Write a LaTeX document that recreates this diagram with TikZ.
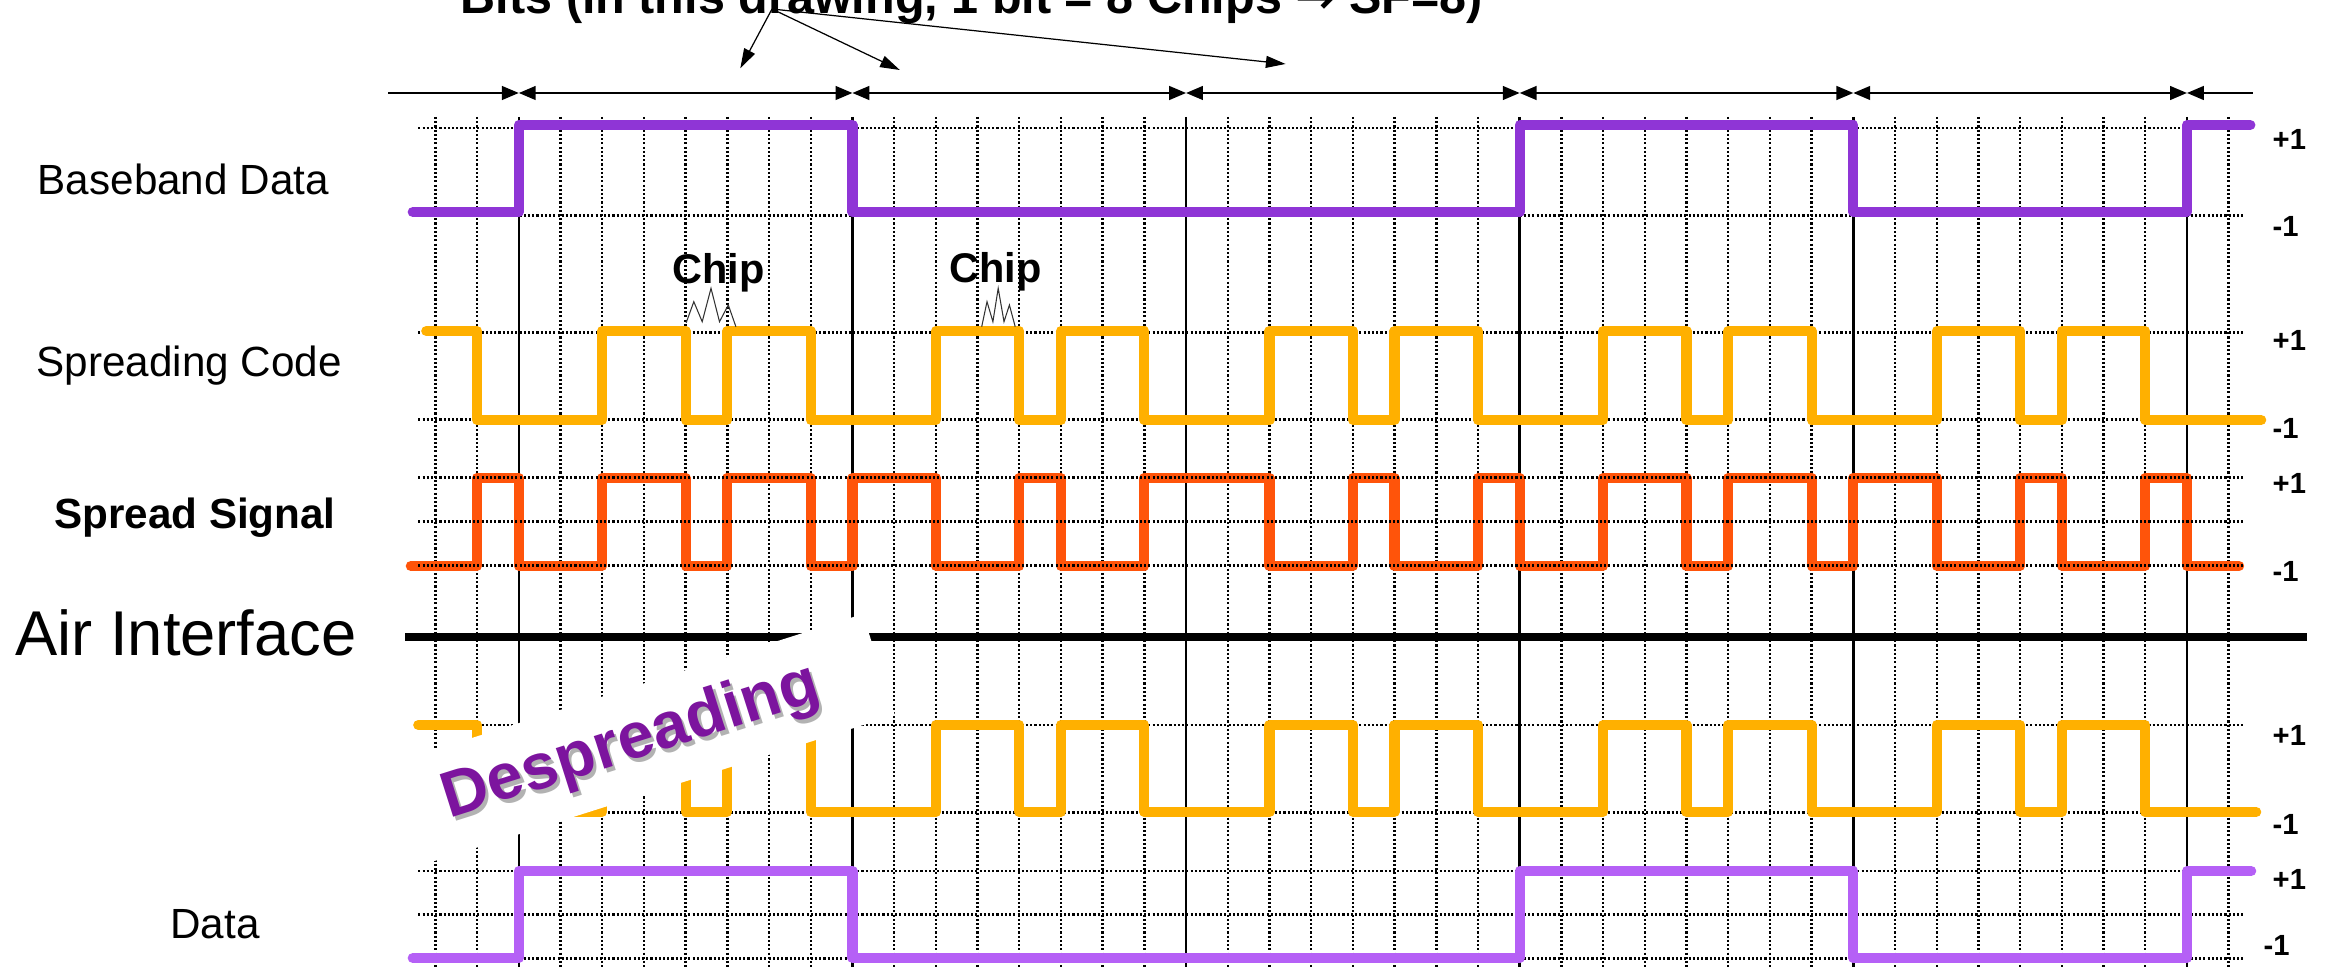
\documentclass[tikz,border=0pt]{standalone}
\usepackage{fontspec}
\setmainfont{Liberation Sans}
\newfontfamily\arrowfont{DejaVu Sans}
\usetikzlibrary{arrows.meta}
\definecolor{bbpurple}{RGB}{143,53,214}
\definecolor{datapurple}{RGB}{181,96,246}
\definecolor{codeorange}{RGB}{255,176,0}
\definecolor{spreadred}{RGB}{255,84,10}
\definecolor{despurple}{RGB}{124,20,158}
\begin{document}
\begin{tikzpicture}[x=0.01cm,y=-0.01cm,
  gridline/.style={line width=0.7pt, dash pattern=on 0.6pt off 0.6pt},
  bitline/.style={line width=0.7pt},
  wave/.style={line width=2.9pt, line cap=round, line join=round},
  tl/.style={line width=0.6pt},
  tltip/.tip={Triangle[length=4.8pt, width=3.9pt]},
  ptr/.style={line width=0.35pt, -{Triangle[length=5.6pt, width=3.4pt]}},
  zig/.style={line width=0.3pt, black!80},
  lbl/.style={font=\fontsize{12}{14}\selectfont, inner sep=0pt, anchor=base},
  lvl/.style={font=\fontsize{8.3}{10}\selectfont\bfseries, inner sep=0pt, anchor=west},
  chiplbl/.style={font=\fontsize{11.8}{14}\selectfont\bfseries, inner sep=0pt, anchor=base},
  desptext/.style={font=\fontsize{18.4}{20}\selectfont\bfseries, inner sep=0pt, rotate=17.6}]
\useasboundingbox (0,0) rectangle (2327,967);

% ---------- grid ----------
\begin{scope}[x=0.4168cm, xshift=5.185cm]
  \foreach \k in {-2,...,41}{
    \pgfmathtruncatemacro\m{mod(\k+16,8)}
    \ifnum\m=0
      \draw[bitline] (\k,117) -- (\k,967);
    \else
      \draw[gridline] (\k,117) -- (\k,967);
    \fi
  }
  \foreach \yy in {128,215.7,332.5,419.5,725,812.7,871,914.5,958.3}
    \draw[gridline] (-2.41,\yy) -- (41.39,\yy);

  % bit boundary coordinates on the time line
  \coordinate (t0) at (-3.13,93);
  \foreach \i in {0,...,5} \coordinate (b\i) at ({8*\i},93);
  \coordinate (t1) at (41.59,93);

  % ---------- waveforms ----------
  \draw[wave, bbpurple] (-2.543,212) -| (0,125) -| (8,212) -| (24,125) -| (32,212) -| (40,125) -- (41.52,125);

  \draw[wave, codeorange] (-2.219,331) -| (-1,420) -| (2,331) -| (4,420) -| (5,331) -| (7,420)
     -| (10,331) -| (12,420) -| (13,331) -| (15,420) -| (18,331) -| (20,420) -| (21,331) -| (23,420)
     -| (26,331) -| (28,420) -| (29,331) -| (31,420) -| (34,331) -| (36,420) -| (37,331) -| (39,420)
     -- (41.78,420);

  \draw[wave, spreadred] (-2.589,566) -| (-1,478) -| (0,566) -| (2,478) -| (4,566) -| (5,478) -| (7,566)
     -| (8,478) -| (10,566) -| (12,478) -| (13,566) -| (15,478) -| (18,566) -| (20,478) -| (21,566)
     -| (23,478) -| (24,566) -| (26,478) -| (28,566) -| (29,478) -| (31,566) -| (32,478) -| (34,566)
     -| (36,478) -| (37,566) -| (39,478) -| (40,566) -- (41.25,566);
  \foreach \yy in {477.7,521.7,565.5}
    \draw[gridline] (-2.41,\yy) -- (41.39,\yy);

  \draw[wave, codeorange] (-2.411,725) -| (-1,812) -| (2,725) -| (4,812) -| (5,725) -| (7,812)
     -| (10,725) -| (12,812) -| (13,725) -| (15,812) -| (18,725) -| (20,812) -| (21,725) -| (23,812)
     -| (26,725) -| (28,812) -| (29,725) -| (31,812) -| (34,725) -| (36,812) -| (37,725) -| (39,812)
     -- (41.66,812);

  \draw[wave, datapurple] (-2.543,958) -| (0,871) -| (8,958) -| (24,871) -| (32,958) -| (40,871) -- (41.54,871);
\end{scope}

% ---------- time line with bit arrows ----------
\draw[tl, -tltip] (t0) -- (b0);
\foreach \i/\j in {0/1,1/2,2/3,3/4,4/5}
  \draw[tl, tltip-tltip] (b\i) -- (b\j);
\draw[tl, tltip-] (b5) -- (t1);

% ---------- title and pointers ----------
\node[font=\fontsize{13.8}{16}\selectfont\bfseries, inner sep=0pt, anchor=base] (title) at (972,13.5)
  {Bits (in this drawing, 1 bit = 8 Chips {\arrowfont\bfseries →} SF=8)};
\coordinate (ta) at (772,9);
\coordinate (p1) at (740.3,68.3);
\coordinate (p2) at (899.8,70);
\coordinate (p3) at (1285.6,64);
\draw[ptr] (ta) -- (p1);
\draw[ptr] (ta) -- (p2);
\draw[ptr] (ta) -- (p3);

% ---------- air interface ----------
\coordinate (air0) at (405,637);
\coordinate (air1) at (2307,637);
\draw[line width=2.08pt] (air0) -- (air1);

% ---------- chip marks ----------
\node[chiplbl] (chip1) at (718.7,283.3) {Chip};
\node[chiplbl] (chip2) at (995.6,283) {Chip};
\draw[zig] (686.2,322.7) -- (693.8,301.7) -- (702.2,321.7) -- (711,288.3) -- (719.5,321.7) -- (728.3,305) -- (735.9,326.7);
\draw[zig] (981.7,326.7) -- (987,301.7) -- (992.9,321.7) -- (998.2,288.3) -- (1004,321.7) -- (1009.4,305) -- (1015.2,326.7);

% ---------- left labels ----------
\node[lbl] (lbb) at (183.3,194.6) {Baseband Data};
\node[lbl] (lsc) at (189.2,376.8) {Spreading Code};
\node[lbl, font=\fontsize{12}{14}\selectfont\bfseries] (lss) at (195,528.6) {Spread Signal};
\node[lbl, font=\fontsize{18}{20}\selectfont] (lair) at (186,656) {Air Interface};
\node[lbl] (ldata) at (215,938) {Data};

% ---------- level labels ----------
\node[lvl] (bbp) at (2272,139) {+1};
\node[lvl] (bbm) at (2272,226) {-1};
\node[lvl] (scp) at (2272,340) {+1};
\node[lvl] (scm) at (2272,428) {-1};
\node[lvl] (ssp) at (2272,483) {+1};
\node[lvl] (ssm) at (2272,571) {-1};
\node[lvl] (dsp) at (2272,735) {+1};
\node[lvl] (dsm) at (2272,824) {-1};
\node[lvl] (dap) at (2272,879) {+1};
\node[lvl] (dam) at (2263,945) {-1};

% ---------- despreading label ----------
\fill[white] (393,763) -- (862.8,614) -- (894.8,715) -- (425,864) -- cycle;
\node[desptext, text=black!30] (despshadow) at (634.5,747) {Despreading};
\node[desptext, text=despurple] (desp) at (631,743) {Despreading};
\end{tikzpicture}
\end{document}
